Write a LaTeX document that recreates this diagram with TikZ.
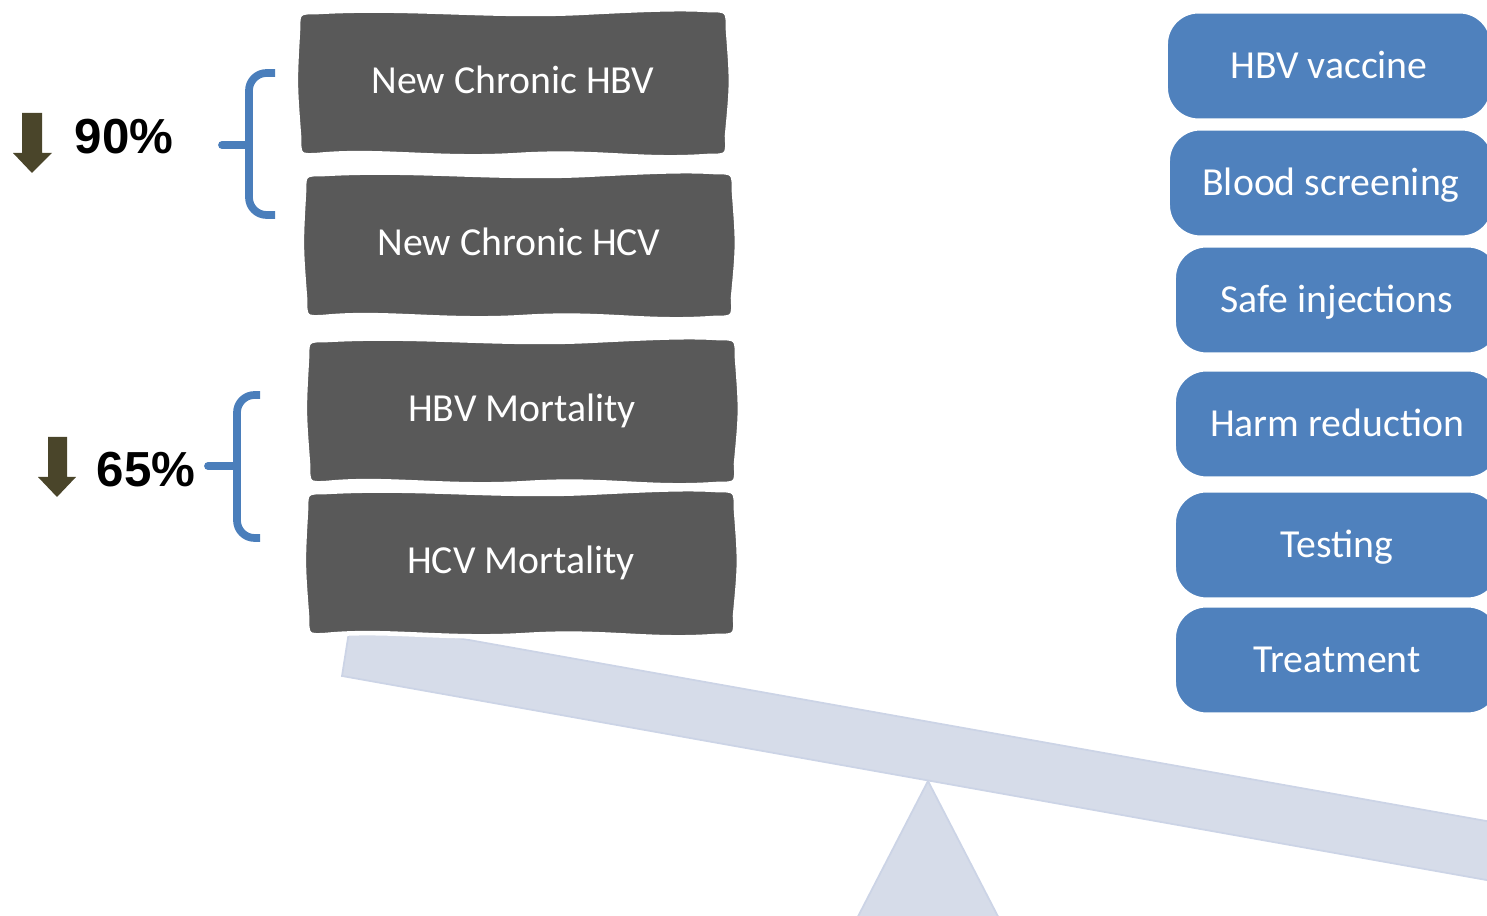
\documentclass[tikz,border=0pt]{standalone}
\usepackage{fontspec}
\setmainfont{Carlito}
\newfontfamily\pctfont{Liberation Sans}
\usetikzlibrary{positioning}
\definecolor{scaleBar}   {RGB}{214,220,233}
\definecolor{scaleEdge}  {RGB}{204,212,230}
\definecolor{burdenGrey} {RGB}{89,89,89}
\definecolor{actionBlue} {RGB}{79,129,189}
\definecolor{braceBlue}  {RGB}{74,126,187}
\definecolor{dropOlive}  {RGB}{74,69,42}

% hand-drawn grey box: name, top-left x, top-left y, text
\newcommand{\burdenbox}[4]{%
  \filldraw[burdenfill, shift={(#2,#3)}]
    (20,2) .. controls (110,-3) and (190,7) .. (280,3)
    .. controls (340,0) and (380,-2) .. (410,0)
    .. controls (430,0) .. (430,20)
    .. controls (434,73) .. (429,126)
    .. controls (430,146) .. (410,146)
    .. controls (340,151) and (300,140) .. (220,145)
    .. controls (140,150) and (80,139) .. (20,145)
    .. controls (1,146) .. (1,126)
    .. controls (-3,73) .. (0,20)
    .. controls (0,2) .. (20,2) -- cycle;
  \node[burden] (#1) at (#2+215,#3+71) {#4};}

\begin{document}
\begin{tikzpicture}[
      x=0.01cm, y=-0.01cm,
      burdenfill/.style={fill=burdenGrey, draw=white, line width=1.3pt},
      burden/.style={text=white, inner sep=0pt,
                     font=\fontsize{11.3}{13}\selectfont,
                     text height=7.2pt, text depth=0pt},
      action/.style={fill=actionBlue, draw=white, line width=0.6pt, text=white,
                     minimum width=3.24cm, minimum height=1.07cm,
                     rounded corners=9pt, font=\fontsize{11.3}{13}\selectfont,
                     text height=7.2pt, text depth=0pt},
      pct/.style={font=\pctfont\bfseries\fontsize{14}{16}\selectfont},
      brace/.style={draw=braceBlue, line width=2.2pt, rounded corners=5pt},
      beam/.style={fill=scaleBar, draw=scaleEdge, line width=0.5pt},
      drop/.style={fill=dropOlive}]

    \useasboundingbox (0,0) rectangle (1487,916);
    \clip (0,0) rectangle (1487,916);

    % the seesaw
    \filldraw[beam] (928,781) -- (1005,930) -- (851,930) -- cycle;
    \filldraw[beam] (351,619) -- (1520,827) -- (1520,886) -- (342,676) -- cycle;

    \burdenbox{hbvnew}{298}{10}{New Chronic HBV}
    \burdenbox{hcvnew}{304}{172}{New Chronic HCV}
    \burdenbox{hbvmort}{307}{338}{HBV Mortality}
    \burdenbox{hcvmort}{306}{490}{HCV Mortality}

    \node[action] (vaccine)   at (1329,66)  {HBV vaccine};
    \node[action] (screening) at (1331,183) {Blood screening};
    \node[action] (injection) at (1337,300) {Safe injections};
    \node[action] (harm)      at (1337,424) {Harm reduction};
    \node[action] (testing)   at (1337,545) {Testing};
    \node[action] (treatment) at (1337,660) {Treatment};

    % targets
    \draw[brace] (275,73) -- (249,73) -- (249,215) -- (275,215);
    \draw[brace, line cap=round] (222,145) -- (249,145);
    \draw[brace] (260,395) -- (237,395) -- (237,538) -- (260,538);
    \draw[brace, line cap=round] (208,466) -- (237,466);

    \fill[drop] (22,113) -- (42,113) -- (42,153) -- (52,153) -- (32,173)
                -- (13,153) -- (22,153) -- cycle;
    \fill[drop] (48,437) -- (67,437) -- (67,477) -- (76,477) -- (57,497)
                -- (38,477) -- (48,477) -- cycle;
    \node[pct] (cut90) at (124,137) {90\%};
    \node[pct] (cut65) at (146,470) {65\%};
  \end{tikzpicture}
\end{document}
